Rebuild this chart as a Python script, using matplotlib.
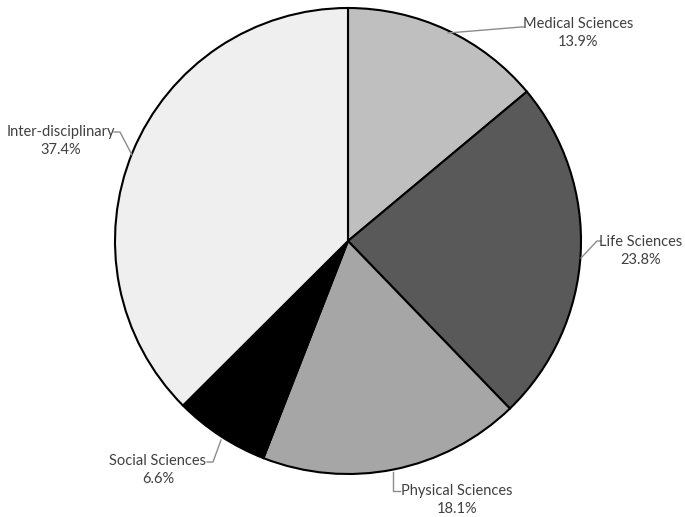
import matplotlib
matplotlib.use('Agg')
import matplotlib.pyplot as plt

# Share of papers by field
fields = ['Medical Sciences', 'Life Sciences', 'Physical Sciences',
          'Social Sciences', 'Inter-disciplinary']
shares = [13.9, 23.8, 18.1, 6.6, 37.4]
colors = ['#bfbfbf', '#595959', '#a6a6a6', '#000000', '#efefef']

W, H = 685, 517
plt.rcParams['font.family'] = ['Lato', 'DejaVu Sans']

fig = plt.figure(figsize=(W / 100, H / 100), dpi=100)
ax = fig.add_axes([0, 0, 1, 1])

cx, cy, r = 348, H - 241, 233
ax.pie(shares, colors=colors, startangle=90, counterclock=False,
       radius=r, center=(cx, cy),
       wedgeprops=dict(edgecolor='black', linewidth=1.5))

# label text centre and leader line, in pixel coords from the top
labels = {
    'Medical Sciences': ((578, 33), [(448, 33), (521, 27), (524, 27)]),
    'Life Sciences': ((641, 251), [(581, 258), (597, 241), (601, 241)]),
    'Physical Sciences': ((457, 500), [(393, 472), (393, 491), (400, 491)]),
    'Social Sciences': ((158, 470), [(221, 440), (213, 462), (207, 462)]),
    'Inter-disciplinary': ((61, 141), [(132, 155), (120, 132), (114, 132)]),
}
for name, value in zip(fields, shares):
    (tx, ty), pts = labels[name]
    ax.text(tx, H - ty, '{}\n{:.1f}%'.format(name, value), ha='center',
            va='center', fontsize=10.5, color='#404040', linespacing=1.4)
    ax.plot([p[0] for p in pts], [H - p[1] for p in pts], color='#8c8c8c',
            linewidth=1)

ax.set_xlim(0, W)
ax.set_ylim(0, H)
ax.set_aspect('auto')
ax.axis('off')

fig.savefig('out.png', dpi=100)
